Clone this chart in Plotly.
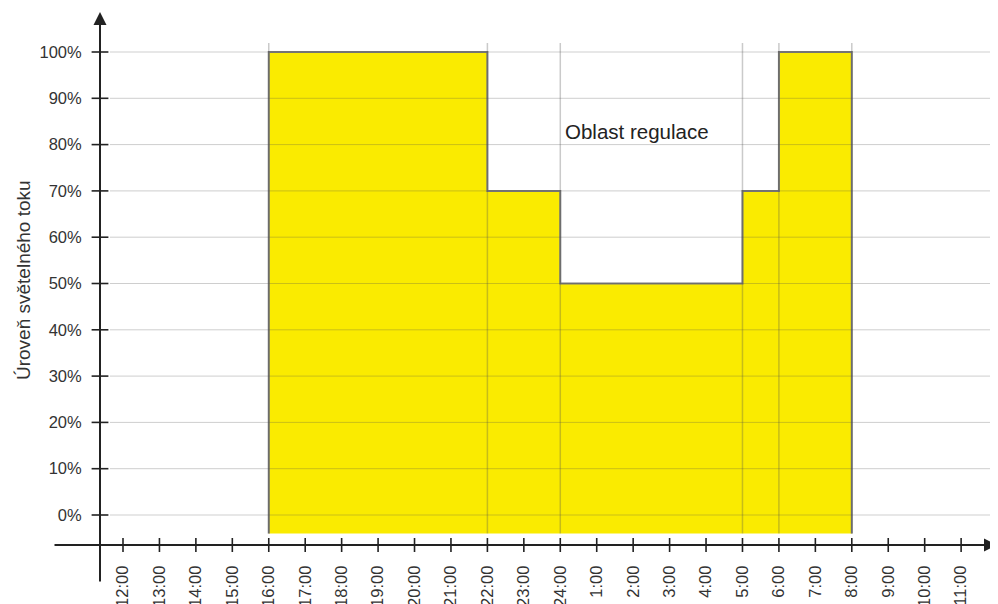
import plotly.graph_objects as go

# ---- data ----
hour_labels = ["12:00", "13:00", "14:00", "15:00", "16:00", "17:00", "18:00",
               "19:00", "20:00", "21:00", "22:00", "23:00", "24:00", "1:00",
               "2:00", "3:00", "4:00", "5:00", "6:00", "7:00", "8:00",
               "9:00", "10:00", "11:00", "12:00"]
level_ticks = [0, 10, 20, 30, 40, 50, 60, 70, 80, 90, 100]
level_labels = ["0%", "10%", "20%", "30%", "40%", "50%", "60%", "70%", "80%", "90%", "100%"]

# step changes: index into hour_labels (hours since 12:00) and level (%) from that hour
change_hours = [4, 10, 12, 17, 18, 20]          # 16:00, 22:00, 24:00, 5:00, 6:00, 8:00
change_levels = [100, 70, 50, 70, 100, 100]
base_level = -4                                   # bottom of the filled block

area_label = "Oblast regulace"
y_title = "Úroveň světelného toku"

# ---- geometry (page-pixel mapping; page has an 8px body margin) ----
OFF = 8
W, H = 998 - OFF, 604 - OFF
px_per_h = 36.44
x0_px = 123.0          # page pixel of hour 0
px_per_pct = 4.63
y0_px = 515.0          # page pixel of 0 %

def hx(p):
    return (p - x0_px) / px_per_h

def vy(p):
    return (y0_px - p) / px_per_pct

xr = [hx(OFF), hx(OFF + W)]
yr = [vy(OFF + H), vy(OFF)]
axis_x = hx(100)
axis_y = vy(545)

FONT = "Liberation Sans, Arial, sans-serif"
TXT = "#333333"
INK = "#222222"

fig = go.Figure()

# filled step area
xs = [change_hours[0]] + change_hours + [change_hours[-1]]
ys = [base_level] + change_levels + [base_level]
fig.add_trace(go.Scatter(
    x=xs, y=ys, mode="lines", line=dict(shape="hv", color="#7a7a7a", width=2),
    fill="toself", fillcolor="#FAEB00", hoverinfo="skip", showlegend=False))

# crossing tick marks
fig.add_trace(go.Scatter(
    x=list(range(len(hour_labels))), y=[axis_y] * len(hour_labels), mode="markers",
    marker=dict(symbol="line-ns-open", size=10, color=INK, line=dict(color=INK, width=1.6)),
    hoverinfo="skip", showlegend=False))
fig.add_trace(go.Scatter(
    x=[axis_x] * len(level_ticks), y=level_ticks, mode="markers",
    marker=dict(symbol="line-ew-open", size=12, color=INK, line=dict(color=INK, width=1.6)),
    hoverinfo="skip", showlegend=False))

shapes = []
# horizontal gridlines (drawn above, semi-transparent so they tint the yellow)
for v in level_ticks:
    shapes.append(dict(type="line", xref="x", yref="y", x0=hx(110), x1=hx(995), y0=v, y1=v,
                       line=dict(color="rgba(80,80,80,0.28)", width=1), layer="above"))
# vertical boundary lines
for h in change_hours:
    shapes.append(dict(type="line", xref="x", yref="y", x0=h, x1=h, y0=base_level, y1=vy(43),
                       line=dict(color="rgba(80,80,80,0.30)", width=1.5), layer="above"))

annotations = [
    # y axis with arrow
    dict(x=axis_x, y=vy(12), ax=axis_x, ay=vy(583), xref="x", yref="y", axref="x", ayref="y",
         text="", showarrow=True, arrowhead=2, arrowsize=1.3, arrowwidth=2, arrowcolor=INK,
         standoff=0, startstandoff=0),
    # x axis with arrow
    dict(x=hx(997), y=axis_y, ax=hx(53), ay=axis_y, xref="x", yref="y", axref="x", ayref="y",
         text="", showarrow=True, arrowhead=2, arrowsize=1.3, arrowwidth=2, arrowcolor=INK,
         standoff=0, startstandoff=0),
    dict(x=hx(637), y=vy(131), xref="x", yref="y", text=area_label, showarrow=False,
         font=dict(family=FONT, size=20.5, color=INK)),
    dict(x=hx(23), y=vy(280), xref="x", yref="y", text=y_title, showarrow=False, textangle=-90,
         font=dict(family=FONT, size=19, color=TXT)),
]

fig.update_layout(
    width=W, height=H, margin=dict(l=0, r=0, t=0, b=0),
    paper_bgcolor="white", plot_bgcolor="white",
    shapes=shapes, annotations=annotations, showlegend=False,
    xaxis=dict(range=xr, showgrid=False, zeroline=False, showline=False,
               tickmode="array", tickvals=list(range(len(hour_labels))), ticktext=hour_labels,
               tickangle=-90, ticks="outside", ticklen=13, tickcolor="rgba(0,0,0,0)",
               anchor="free", position=(OFF + H - 545) / H, automargin=False,
               ticklabeloverflow="allow",
               tickfont=dict(family=FONT, size=16.5, color=TXT), fixedrange=True),
    yaxis=dict(range=yr, showgrid=False, zeroline=False, showline=False,
               tickmode="array", tickvals=level_ticks, ticktext=level_labels,
               ticks="outside", ticklen=15, tickcolor="rgba(0,0,0,0)",
               anchor="free", position=(100 - OFF) / W, automargin=False,
               tickfont=dict(family=FONT, size=16.5, color=TXT), fixedrange=True),
)

fig.write_html("out.html")
